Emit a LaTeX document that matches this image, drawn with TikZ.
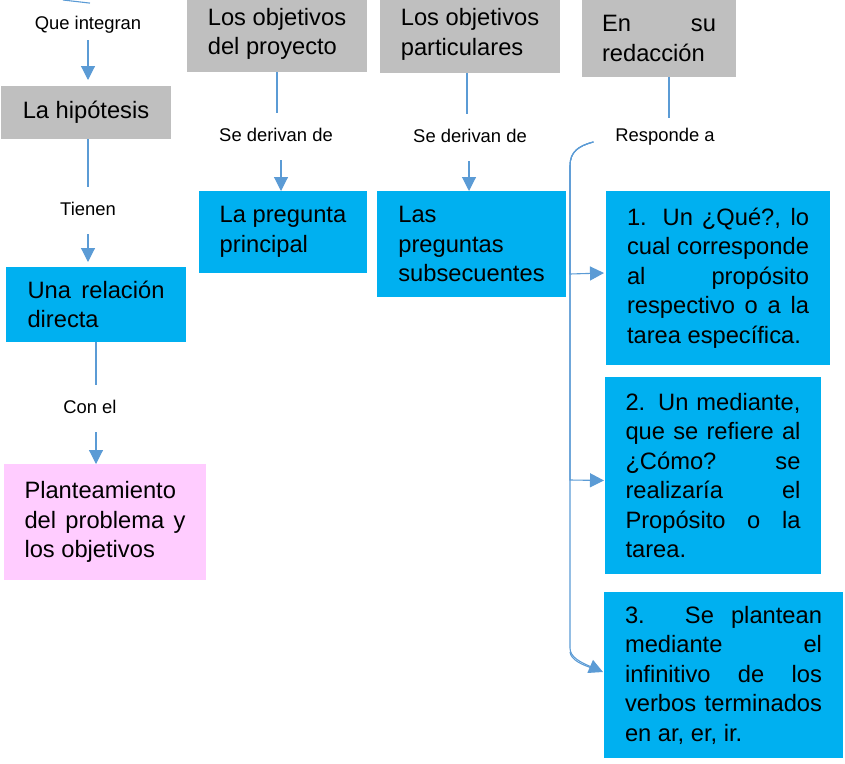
\documentclass[tikz,border=0pt]{standalone}
\usepackage{fontspec}
\setmainfont{Liberation Sans}
\usetikzlibrary{arrows.meta,calc}
\definecolor{boxgray}{HTML}{BFBFBF}
\definecolor{boxblue}{HTML}{00B0F0}
\definecolor{boxpink}{HTML}{FFCCFF}
\definecolor{connblue}{HTML}{5B9BD5}
\newcommand{\jl}[2]{\makebox[#1pt][s]{#2}}
\begin{document}
\begin{tikzpicture}[x=1pt,y=-1pt,
  box/.style={anchor=north west, inner sep=0pt, outer sep=0pt, align=left,
     font=\fontsize{23.7}{29.5}\selectfont, text=black},
  graybox/.style={box, fill=boxgray},
  bluebox/.style={box, fill=boxblue},
  pinkbox/.style={box, fill=boxpink},
  lbl/.style={font=\fontsize{18.4}{22}\selectfont, text height=13.2pt, text depth=3.9pt,
     inner xsep=2pt, inner ysep=15.2pt, outer sep=0pt, anchor=base},
  conn/.style={draw=connblue, line width=1.1pt},
  arr/.style={conn, -{Triangle[length=14pt,width=14pt]}}
]
\useasboundingbox (0,0) rectangle (845,763);
\clip (0,0) rectangle (845,763);

% boxes
\node[graybox, minimum width=170pt, minimum height=53pt] (hip) at (1,86) {La hipótesis};
\node[graybox, minimum width=180pt, minimum height=76pt] (proy) at (187,-4) {Los objetivos\\del proyecto};
\node[graybox, minimum width=180pt, minimum height=77pt] (part) at (380,-4) {Los objetivos\\particulares};
\node[graybox, minimum width=154pt, minimum height=77pt] (reda) at (582,0) {\jl{114}{En su}\\redacción};
\node[bluebox, minimum width=168pt, minimum height=82pt] (preg) at (199,191) {La pregunta\\principal};
\node[bluebox, minimum width=189pt, minimum height=106pt] (subs) at (377,191) {Las\\preguntas\\subsecuentes};
\node[bluebox, minimum width=180pt, minimum height=75pt] (rel) at (6,267) {\jl{137}{Una relación}\\directa};
\node[pinkbox, minimum width=202pt, minimum height=116pt] (plan) at (4,464) {Planteamiento\\\jl{161}{del problema y}\\los objetivos};
\node[bluebox, minimum width=224pt, minimum height=174pt] (q1) at (606,191)
  {\jl{182}{1. Un ¿Qué?, lo}\\\jl{182}{cual corresponde}\\\jl{182}{al propósito}\\\jl{182}{respectivo o a la}\\tarea específica.};
\node[bluebox, minimum width=216pt, minimum height=197pt] (q2) at (605,377)
  {\jl{175}{2. Un mediante,}\\\jl{175}{que se refiere al}\\\jl{175}{¿Cómo? se}\\\jl{175}{realizaría el}\\\jl{175}{Propósito o la}\\tarea.};
\node[bluebox, minimum width=239pt, minimum height=166pt] (q3) at (604,592)
  {\jl{197}{3. Se plantean}\\\jl{197}{mediante el}\\\jl{197}{infinitivo de los}\\\jl{197}{verbos terminados}\\en ar, er, ir.};

% labels
\node[lbl] (qi) at (88,29) {Que integran};
\node[lbl] (tien) at (88,215) {Tienen};
\node[lbl] (conel) at (90,413) {Con el};
\node[lbl] (der1) at (276,141) {Se derivan de};
\node[lbl] (der2) at (470,142) {Se derivan de};
\node[lbl] (resp) at (665,141) {Responde a};

% connectors
\coordinate (topfree) at (63,0);
\draw[conn] (topfree) -- ($(qi.north)+(2,2.5)$);
\draw[arr] ($(qi.south)+(0,-8)$) -- ($(qi.south |- hip.north)+(0,-6)$);
\draw[conn] (hip.south -| tien.north) -- (tien.north);
\draw[arr] (tien.south) -- ($(tien.south |- rel.north)+(0,-5)$);
\draw[conn] (rel.south) -- (rel.south |- conel.north);
\draw[arr] (conel.south -| rel.south) -- (rel.south |- plan.north);
\draw[conn] (proy.south) -- (proy.south |- der1.north);
\draw[arr] ($(der1.south)+(5,0)$) -- ($(der1.south |- preg.north)+(5,0)$);
\draw[conn] ($(part.south)+(-3,0)$) -- ($(part.south |- der2.north)+(-3,0)$);
\draw[arr] ($(der2.south)+(-1,0)$) -- ($(der2.south |- subs.north)+(-1,0)$);
\draw[conn] ($(reda.south)+(10,0)$) -- ($(reda.south |- resp.north)+(10,5)$);

\coordinate (rstart) at ($(resp.west |- resp.base)+(-20,1)$);
\draw[arr] (rstart) .. controls (578,146) and (570,152) .. (570,166) -- (570,274) -- ($(q1.west)+(-2,-5)$);
\draw[arr] (rstart) .. controls (578,146) and (570,152) .. (570,166) -- (570,480) -- ($(q2.west)+(-1,5)$);
\draw[arr] (rstart) .. controls (578,146) and (570,152) .. (570,166) -- (570,648) .. controls (570,657) and (580,662) .. ($(q3.west)+(-1,-3)$);
\draw[conn] (570,652) .. controls (571,660) and (582,665) .. (595,669);
\end{tikzpicture}
\end{document}
